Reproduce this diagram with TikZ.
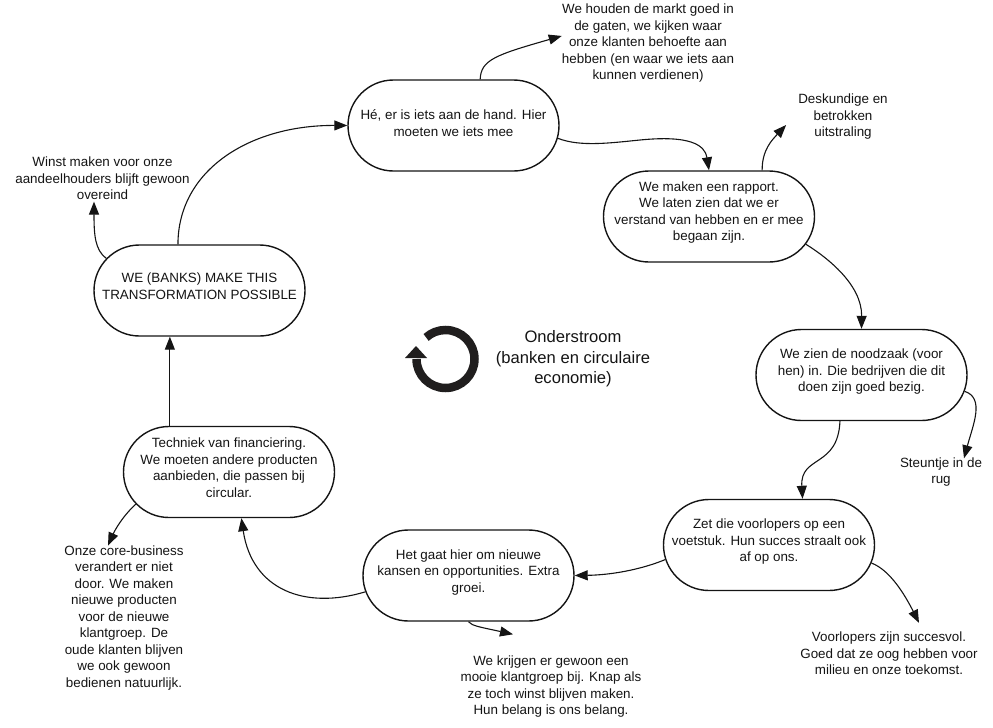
\documentclass[tikz,border=0pt]{standalone}
\usepackage{fontspec}
\setmainfont{Liberation Sans}
\usetikzlibrary{positioning,calc}
\usetikzlibrary{arrows.meta,shapes.misc}
\definecolor{ink}{RGB}{20, 20, 20}
\definecolor{ringink}{RGB}{32, 30, 30}
\tikzset{
    pill/.style={draw=ink, line width=1.4pt, rounded rectangle, minimum width=211pt, minimum height=91pt, inner sep=0pt, align=center, text depth=9pt, text=ink, font=\fontsize{13.4}{16.5}\selectfont},
    note/.style={inner sep=0pt, align=center, text=ink, font=\fontsize{13.4}{16.5}\selectfont},
    link/.style={draw=ink, line width=1.1pt, -{Triangle[length=13pt,width=10pt]}}
}
\begin{document}
\begin{tikzpicture}[x=1pt,y=-1pt]
    \useasboundingbox (0,0) rectangle (993,728);
    \node[pill,text depth=5pt] (hand) at (453.5,125.5) {Hé, er is iets aan de hand. Hier\\moeten we iets mee};
    \node[pill] (rapport) at (709,216.5) {};
    \node[note] (rapporttext) at (709,212.5) {We maken een rapport.\\We laten zien dat we er\\verstand van hebben en er mee\\begaan zijn.};
    \node[pill] (noodzaak) at (861.5,375) {We zien de noodzaak (voor\\hen) in. Die bedrijven die dit\\doen zijn goed bezig.};
    \node[pill] (voetstuk) at (769,545) {Zet die voorlopers op een\\voetstuk. Hun succes straalt ook\\af op ons.};
    \node[pill] (kansen) at (468.5,575.5) {Het gaat hier om nieuwe\\kansen en opportunities. Extra\\groei.};
    \node[pill] (techniek) at (229,472) {Techniek van financiering.\\We moeten andere producten\\aanbieden, die passen bij\\circular.};
    \node[pill] (banks) at (199.5,290.5) {WE (BANKS) MAKE THIS\\TRANSFORMATION POSSIBLE};
    \node[note] (markt) at (648,43.5) {We houden de markt goed in\\de gaten, we kijken waar\\onze klanten behoefte aan\\hebben (en waar we iets aan\\kunnen verdienen)};
    \node[note] (desk) at (843,117) {Deskundige en\\betrokken\\uitstraling};
    \node[note] (steun) at (941,472) {Steuntje in de\\rug};
    \node[note] (voorlop) at (889,653.5) {Voorlopers zijn succesvol.\\Goed dat ze oog hebben voor\\milieu en onze toekomst.};
    \node[note] (krijgen) at (551,686.5) {We krijgen er gewoon een\\mooie klantgroep bij. Knap als\\ze toch winst blijven maken.\\Hun belang is ons belang.};
    \node[note] (onze) at (124,618) {Onze core-business\\verandert er niet\\door. We maken\\nieuwe producten\\voor de nieuwe\\klantgroep. De\\oude klanten blijven\\we ook gewoon\\bedienen natuurlijk.};
    \node[note] (winst) at (102.5,178.5) {Winst maken voor onze\\aandeelhouders blijft gewoon\\overeind};
    \node[note,font=\fontsize{16.6}{20.5}\selectfont] (onder) at (573,359) {Onderstroom\\(banken en circulaire\\economie)};

    \draw[link] (banks.115) .. controls (178,170) and (250,125) .. (hand.west);
    \draw[link] (banks.161) .. controls (95,250) and (94,235) .. ([shift={(-8.5,1.5)}]winst.south);
    \draw[link] (hand.60) .. controls (481,60) and (495,55) .. (markt.175);
    \draw[link] (hand.-7) .. controls (580,147) and (610,143) .. (640,140) .. controls (690,135) and (705,145) .. (rapport.north);
    \draw[link] (rapport.41) .. controls (762,150) and (772,140) .. ([shift={(-12,8)}]desk.west);
    \draw[link] (rapport.-16) .. controls (828,258) and (862,285) .. (noodzaak.north);
    \draw[link] (noodzaak.-9) .. controls (985,398) and (973,425) .. ([shift={(23,1)}]steun.north);
    \draw[link] (noodzaak.-115) .. controls (838,468) and (800,455) .. (voetstuk.54);
    \draw[link] (voetstuk.-10) .. controls (890,570) and (905,595) .. ([shift={(30,-9)}]voorlop.north);
    \draw[link] (voetstuk.188) .. controls (640,570) and (610,575) .. (kansen.east);
    \draw[link] (kansen.south) .. controls (472,626) and (480,627) .. ([shift={(-38,-21)}]krijgen.north);
    \draw[link] (kansen.189) .. controls (305,610) and (252,590) .. (techniek.-75);
    \draw[link] (techniek.142) -- (techniek.142 |- banks.south);
    \draw[link] (techniek.199) .. controls (122,517) and (115,530) .. ([shift={(-16,0)}]onze.north);

    \draw[ringink,line width=8.5pt] (416.5,359) arc[start angle=180, end angle=-132, radius=29];
    \fill[ringink] (416,346) -- (427,358) -- (405,358) -- cycle;
\end{tikzpicture}
\end{document}
